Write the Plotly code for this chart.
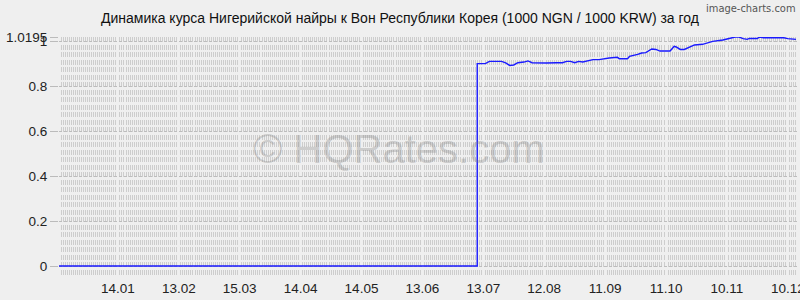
import plotly.graph_objects as go

# ---- data ----
dates = [
    "2024-12-16", "2025-07-10",
    "2025-07-10", "2025-07-14", "2025-07-16", "2025-07-22", "2025-07-24", "2025-07-26",
    "2025-07-28", "2025-07-30", "2025-08-02", "2025-08-04", "2025-08-06", "2025-08-08",
    "2025-08-13", "2025-08-18", "2025-08-21", "2025-08-23", "2025-08-25", "2025-08-27",
    "2025-08-29", "2025-08-31", "2025-09-03", "2025-09-05", "2025-09-08", "2025-09-10",
    "2025-09-13", "2025-09-17", "2025-09-18", "2025-09-22", "2025-09-23", "2025-09-27",
    "2025-09-29", "2025-10-01", "2025-10-04", "2025-10-06", "2025-10-08", "2025-10-13",
    "2025-10-15", "2025-10-16", "2025-10-18", "2025-10-20", "2025-10-23", "2025-10-25",
    "2025-10-29", "2025-10-30", "2025-11-01", "2025-11-03", "2025-11-08", "2025-11-12",
    "2025-11-14", "2025-11-16", "2025-11-18", "2025-11-20", "2025-11-21", "2025-11-25",
    "2025-11-26", "2025-11-28", "2025-12-01", "2025-12-05", "2025-12-08", "2025-12-10",
    "2025-12-14",
]
rates = [
    0.0, 0.0,
    0.901, 0.901, 0.911, 0.911, 0.904, 0.893,
    0.895, 0.905, 0.908, 0.913, 0.905, 0.904,
    0.904, 0.905, 0.905, 0.911, 0.911, 0.905,
    0.911, 0.908, 0.914, 0.919, 0.919, 0.923,
    0.926, 0.929, 0.923, 0.923, 0.933, 0.942,
    0.948, 0.950, 0.966, 0.964, 0.957, 0.957,
    0.978, 0.975, 0.964, 0.964, 0.975, 0.984,
    0.987, 0.990, 0.997, 1.000, 1.006, 1.016,
    1.0195, 1.019, 1.012, 1.009, 1.013, 1.013,
    1.0195, 1.016, 1.017, 1.017, 1.016, 1.012,
    1.009,
]
y_tick_vals = [0, 0.2, 0.4, 0.6, 0.8, 1, 1.0195]
y_tick_text = ["0", "0.2", "0.4", "0.6", "0.8", "1", "1.0195"]
x_range = ["2024-12-16", "2025-12-15"]
y_range = [-0.04, 1.0195]
first_tick = "2025-01-14"
title_text = "Динамика курса Нигерийской найры к Вон Республики Корея (1000 NGN / 1000 KRW) за год"

DAY = 86400000
BG = "#efefef"

fig = go.Figure()
fig.add_trace(go.Scatter(
    x=dates, y=rates, mode="lines",
    line=dict(color="#1a1aff", width=1.4),
    hoverinfo="skip", showlegend=False,
))

fig.update_layout(
    width=800, height=300,
    margin=dict(l=59, r=2, t=37, b=25, autoexpand=False),
    paper_bgcolor=BG, plot_bgcolor=BG,
    font=dict(family="Liberation Sans, Arial, sans-serif", size=13, color="#222"),
    title=dict(text=title_text, x=0.5, xanchor="center", y=0.94, yanchor="middle",
               font=dict(size=14, color="#111")),
    showlegend=False,
)

fig.update_xaxes(
    type="date", range=x_range, automargin=False,
    tick0=first_tick, dtick=30 * DAY, tickformat="%d.%m",
    showgrid=False, zeroline=False, showline=False, ticks="",
    ticklabelstandoff=3, ticklabeloverflow="allow",
    tickfont=dict(size=13.5, color="#222"),
    minor=dict(tick0=x_range[0], dtick=DAY, showgrid=True,
               gridcolor="#cdcdcd", gridwidth=1, griddash="5px,2.5px", ticks=""),
)

fig.update_yaxes(
    range=y_range, tickvals=y_tick_vals, ticktext=y_tick_text, automargin=False,
    showgrid=True, gridcolor="#bdbdbd", gridwidth=1, griddash="3px,2px",
    zeroline=False, showline=False,
    ticks="outside", ticklen=8, tickcolor="#bbbbbb",
    tickfont=dict(size=13.5, color="#222"),
)

fig.add_annotation(
    text="© HQRates.com", xref="paper", yref="paper", x=0.46, y=0.53,
    xanchor="center", yanchor="middle", showarrow=False,
    font=dict(size=40, color="rgba(120,120,120,0.30)", family="Liberation Sans, Arial, sans-serif"),
)
fig.add_annotation(
    text="image-charts.com", xref="paper", yref="paper", x=1.0, y=1.0,
    yshift=37, xanchor="right", yanchor="top", showarrow=False,
    font=dict(size=11, color="#555", family="DejaVu Sans Condensed, DejaVu Sans, sans-serif"),
)

fig.write_html("out.html")
